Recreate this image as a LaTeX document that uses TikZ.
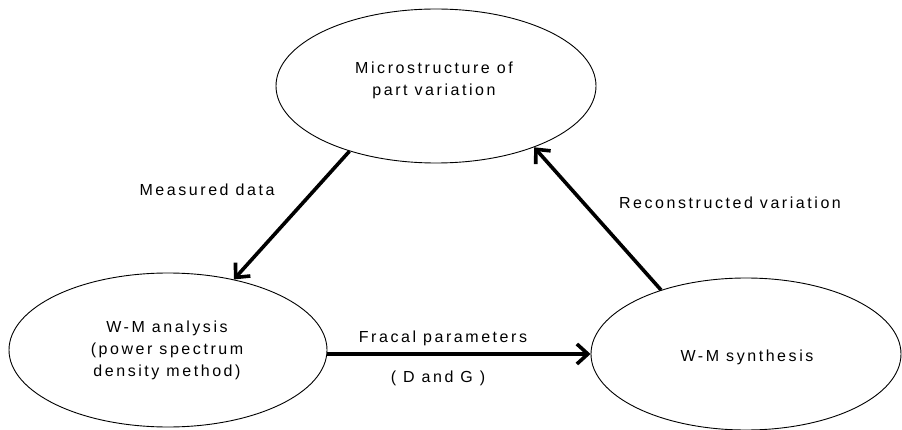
\documentclass[tikz,border=0pt]{standalone}
\usepackage{fontspec}
\setmainfont{Liberation Sans}[LetterSpace=16]
\usetikzlibrary{arrows.meta,shapes.geometric}
\begin{document}
\begin{tikzpicture}[x=1pt,y=-1pt,
  oval/.style={draw,ellipse,line width=0.9pt,inner sep=0pt,align=center},
  flow/.style={line width=3.6pt,-{Straight Barb[length=11pt,width=20pt]}},
  lbl/.style={font=\fontsize{16}{22}\selectfont,inner sep=0pt}]
\useasboundingbox (0,0) rectangle (902,430);
\node[oval,minimum width=320pt,minimum height=154pt] (top) at (436,86) {};
\node[lbl,align=center] (toptext) at (434,80) {Microstructure of\\part variation};
\node[oval,minimum width=318pt,minimum height=154pt] (bl) at (168,350) {};
\node[lbl,align=center] (bltext) at (167,350) {W-M analysis\\(power spectrum\\density method)};
\node[oval,minimum width=310pt,minimum height=152pt] (br) at (746,354) {};
\node[lbl] (brtext) at (747,357) {W-M synthesis};
\draw[flow] (top.217) -- (bl.47);
\draw[flow] (br.143) -- (top.-32);
\draw[flow] (bl.east |- br.west) -- (br.west);
\node[lbl] (m) at (207,190) {Measured data};
\node[lbl] (r) at (730,203) {Reconstructed variation};
\node[lbl] (f) at (443,338) {Fracal parameters};
\node[lbl] (dg) at (438,378) {( D and G )};
\end{tikzpicture}
\end{document}
